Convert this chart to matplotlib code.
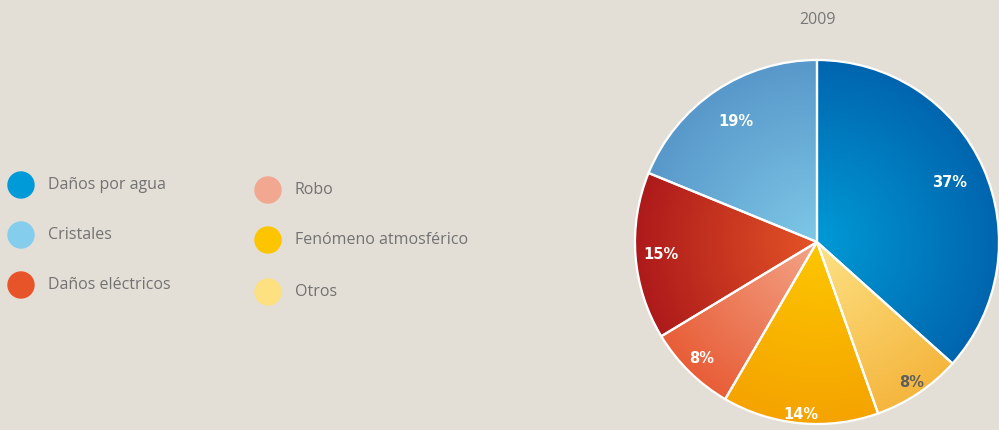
import matplotlib.pyplot as plt
import numpy as np
from matplotlib.colors import LinearSegmentedColormap
from matplotlib.patches import Circle

BG = '#e4dfd6'
TEXT = '#727272'

# data
categories = ['Daños por agua', 'Otros', 'Fenómeno atmosférico', 'Robo',
              'Daños eléctricos', 'Cristales']
values = [37, 8, 14, 8, 15, 19]
year = '2009'

legend_col1 = ['Daños por agua', 'Cristales', 'Daños eléctricos']
legend_col2 = ['Robo', 'Fenómeno atmosférico', 'Otros']
legend_colors = {
    'Daños por agua': '#009ad8',
    'Cristales': '#84cdec',
    'Daños eléctricos': '#e8542a',
    'Robo': '#f2a790',
    'Fenómeno atmosférico': '#fdc400',
    'Otros': '#fde07f',
}
# (center colour, outer colour) for the radial shading of each slice
shades = {
    'Daños por agua': ('#009ad6', '#0065ae'),
    'Cristales': ('#7ec8e7', '#5898ca'),
    'Daños eléctricos': ('#e45426', '#ad1a1b'),
    'Robo': ('#f3a487', '#e85e38'),
    'Fenómeno atmosférico': ('#fdc700', '#f5a300'),
    'Otros': ('#fde285', '#f5b63e'),
}
label_colors = ['white', '#5f5f5f', 'white', 'white', 'white', 'white']
label_r = [0.80, 0.93, 0.95, 0.90, 0.86, 0.80]

W, H = 999, 430
fig = plt.figure(figsize=(W / 100, H / 100), dpi=100)
fig.patch.set_facecolor(BG)

# background axes in pixel units for legend and title
bg = fig.add_axes([0, 0, 1, 1])
bg.set_xlim(0, W)
bg.set_ylim(H, 0)
bg.axis('off')

# pie axes: centre ~ (817, 242) px, radius ~ 182 px
cx, cy, R = 817, 242, 182
ax = fig.add_axes([(cx - R) / W, (H - cy - R) / H, 2 * R / W, 2 * R / H])

wedges, _ = ax.pie(values, startangle=90, counterclock=False, radius=1,
                   wedgeprops=dict(edgecolor='white', linewidth=1.6))
ax.set_aspect('equal')
ax.axis('off')

yy, xx = np.mgrid[-1:1:400j, -1:1:400j]
rr = np.sqrt(xx ** 2 + yy ** 2)
for w, name in zip(wedges, categories):
    inner, outer = shades[name]
    cmap = LinearSegmentedColormap.from_list(name, [inner, outer])
    w.set_facecolor('none')
    im = ax.imshow(rr, cmap=cmap, vmin=0, vmax=1, extent=[-1, 1, -1, 1],
                   origin='lower', zorder=0)
    im.set_clip_path(w)
    w.set_zorder(2)
ax.set_xlim(-1, 1)
ax.set_ylim(-1, 1)

for w, v, c, r in zip(wedges, values, label_colors, label_r):
    ang = np.deg2rad((w.theta1 + w.theta2) / 2)
    ax.text(r * np.cos(ang), r * np.sin(ang), f'{v}%', color=c,
            ha='center', va='center', fontsize=10.5, fontweight='bold',
            family='DejaVu Sans', zorder=3)

bg.text(cx, 20, year, ha='center', va='center', color='#777777',
        fontsize=11.5, family='Open Sans')

# legend
def legend_item(x, y, label):
    bg.add_patch(Circle((x, y), 13, color=legend_colors[label]))
    bg.text(x + 27, y, label, ha='left', va='center',
            color=TEXT, fontsize=11.5, family='Open Sans')

for lab, y in zip(legend_col1, [185, 235, 285]):
    legend_item(21, y, lab)
for lab, y in zip(legend_col2, [190, 240, 292]):
    legend_item(268, y, lab)

fig.savefig('out.png', dpi=100, facecolor=BG)
